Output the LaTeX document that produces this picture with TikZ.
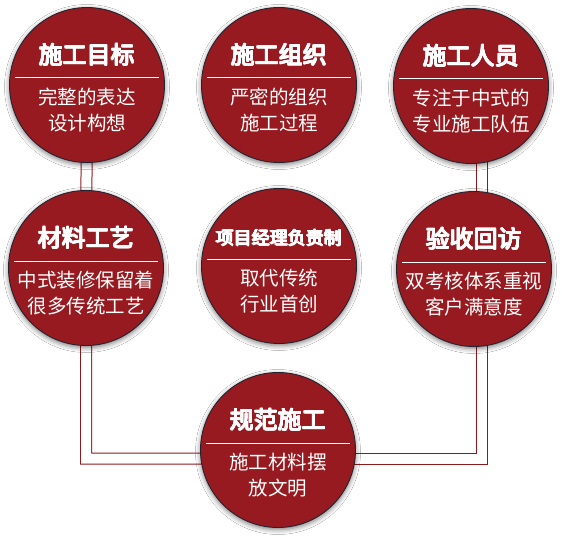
\documentclass[tikz,border=0pt]{standalone}
\usepackage{fontspec}
\usepackage{contour}
\contourlength{0.45pt}
\contournumber{8}
\newfontfamily\cjk{Noto Sans CJK SC}
\usetikzlibrary{shadows.blur,backgrounds}
\definecolor{cred}{RGB}{150,26,31}
\definecolor{cedge}{RGB}{35,35,50}
\definecolor{lred}{RGB}{143,26,30}
\newcommand{\heavy}[1]{\contour{white}{#1}}
\begin{document}
\begin{tikzpicture}[x=1pt,y=-1pt,
  disc/.style={circle,minimum size=155pt,inner sep=0pt,fill=cred,draw=cedge,line width=0.9pt,
    blur shadow={shadow xshift=0pt,shadow yshift=-2pt,shadow blur radius=5pt,shadow opacity=55}},
  ttl/.style={text=white,font=\cjk\fontsize{24}{28}\selectfont,inner sep=0pt},
  ttlsmall/.style={text=white,font=\cjk\fontsize{18}{22}\selectfont,inner sep=0pt},
  body/.style={text=white,font=\cjk\fontsize{19.5}{26}\selectfont,align=center,inner sep=0pt},
  divider/.style={white,line width=1pt},
  conn/.style={draw=lred,line width=1pt,double=white,double distance=10pt}
]
\useasboundingbox (0,0) rectangle (562,540);

\node[disc] (c1) at (87,85) {};
\node[disc] (c2) at (279,85) {};
\node[disc] (c3) at (471,86) {};
\node[disc] (c4) at (86,268) {};
\node[disc] (c5) at (279,266) {};
\node[disc] (c6) at (474,269) {};
\node[disc] (c7) at (278,450) {};

\begin{scope}[on background layer]
\fill[white] (0,0) rectangle (562,540);
\draw[conn] (c1.center) -- (c4.center) |- ([yshift=-8.5pt]c7.center);
\draw[conn] ([xshift=8pt]c6.center |- c3.center) -- ([xshift=8pt]c6.center) |- ([yshift=-8.5pt]c7.center);
\end{scope}

\foreach \c/\t/\b in {c1/施工目标/{完整的表达\\设计构想},
                      c2/施工组织/{严密的组织\\施工过程},
                      c3/施工人员/{专注于中式的\\专业施工队伍},
                      c4/材料工艺/{中式装修保留着\\很多传统工艺},
                      c6/验收回访/{双考核体系重视\\客户满意度},
                      c7/规范施工/{施工材料摆\\放文明}}{
  \node[ttl] (\c t) at ([yshift=30pt]\c.center) {\heavy{\t}};
  \draw[divider] ([xshift=-72pt,yshift=7pt]\c.center) -- ([xshift=72pt,yshift=7pt]\c.center);
  \node[body] (\c b) at ([yshift=-25pt]\c.center) {\b};
}
\node[ttlsmall] (c5t) at ([yshift=28pt]c5.center) {\heavy{项目经理负责制}};
\draw[divider] ([xshift=-72pt,yshift=7pt]c5.center) -- ([xshift=72pt,yshift=7pt]c5.center);
\node[body] (c5b) at ([yshift=-25pt]c5.center) {取代传统\\行业首创};
\end{tikzpicture}
\end{document}
